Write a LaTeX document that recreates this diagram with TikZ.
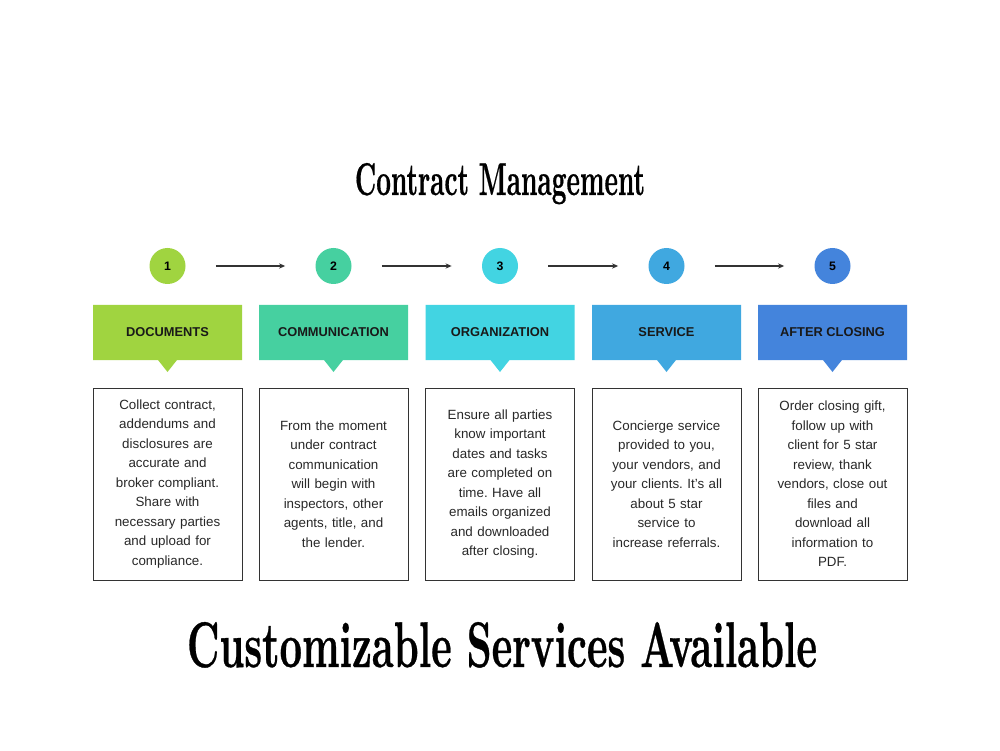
\documentclass[tikz,border=0pt]{standalone}
\usepackage{fontspec,graphicx}
\setsansfont{Liberation Sans}
\newfontfamily\cmdisplay[FakeBold=0.6]{lmroman10-bold.otf}
\definecolor{cmlime}{RGB}{160,212,64}
\definecolor{cmmint}{RGB}{70,208,160}
\definecolor{cmcyan}{RGB}{66,212,226}
\definecolor{cmsky}{RGB}{64,168,224}
\definecolor{cmblue}{RGB}{68,132,220}
\definecolor{cmtext}{RGB}{40,40,40}
\usetikzlibrary{arrows.meta,positioning,shapes.callouts}

\begin{document}
\frenchspacing
\begin{tikzpicture}[
  cmnum/.style={circle,minimum size=0.72cm,inner sep=0pt,
    font=\sffamily\bfseries\fontsize{7}{8}\selectfont,text=black},
  cmhead/.style={rectangle callout,minimum width=2.98cm,minimum height=1.1cm,
    inner sep=0pt,callout relative pointer={(0,-0.24)},callout pointer width=0.38cm,
    font=\sffamily\bfseries\fontsize{7.3}{8}\selectfont,text=black!90},
  cmdesc/.style={draw=black!80,line width=0.5pt,minimum width=2.98cm,minimum height=3.84cm,
    align=center,text width=2.9cm,inner sep=0pt,
    font=\sffamily\fontsize{7.6}{11.1}\selectfont,text=cmtext},
  cmflow/.style={draw=black!80,line width=0.6pt,-{Stealth[length=3.5pt,width=3pt]},
    shorten <=0.6cm,shorten >=0.6cm}
]
  \useasboundingbox[fill=white] (0,0) rectangle (20,15);
  \node (title) at (10,11.1) [anchor=base]
    {\resizebox{5.8cm}{0.64cm}{\cmdisplay Contract Management}};
  % Steps
  \node[cmnum,fill=cmlime] (n1) at (3.35,9.68) {1};
  \node[cmnum,fill=cmmint] (n2) at (6.67,9.68) {2};
  \node[cmnum,fill=cmcyan] (n3) at (10.0,9.68) {3};
  \node[cmnum,fill=cmsky]  (n4) at (13.33,9.68) {4};
  \node[cmnum,fill=cmblue] (n5) at (16.65,9.68) {5};
  \draw[cmflow] (n1) -- (n2);
  \draw[cmflow] (n2) -- (n3);
  \draw[cmflow] (n3) -- (n4);
  \draw[cmflow] (n4) -- (n5);
  % Headers
  \node[cmhead,fill=cmlime] (h1) at (3.35,8.35) {DOCUMENTS};
  \node[cmhead,fill=cmmint] (h2) at (6.67,8.35) {COMMUNICATION};
  \node[cmhead,fill=cmcyan] (h3) at (10.0,8.35) {ORGANIZATION};
  \node[cmhead,fill=cmsky]  (h4) at (13.33,8.35) {SERVICE};
  \node[cmhead,fill=cmblue] (h5) at (16.65,8.35) {AFTER CLOSING};
  % Descriptions
  \node[cmdesc] (d1) at (3.35,5.32) {Collect contract,\\addendums and\\disclosures are\\accurate and\\broker compliant.\\Share with\\necessary parties\\and upload for\\compliance.};
  \node[cmdesc] (d2) at (6.67,5.32) {From the moment\\under contract\\communication\\will begin with\\inspectors, other\\agents, title, and\\the lender.};
  \node[cmdesc] (d3) at (10.0,5.32) {Ensure all parties\\know important\\dates and tasks\\are completed on\\time. Have all\\emails organized\\and downloaded\\after closing.};
  \node[cmdesc] (d4) at (13.33,5.32) {Concierge service\\provided to you,\\your vendors, and\\your clients. It's all\\about 5 star\\service to\\increase referrals.};
  \node[cmdesc] (d5) at (16.65,5.32) {Order closing gift,\\follow up with\\client for 5 star\\review, thank\\vendors, close out\\files and\\download all\\information to\\PDF.};
  \node (footer) at (10.04,1.66) [anchor=base]
    {\resizebox{12.6cm}{0.9cm}{\cmdisplay Customizable Services Available}};
\end{tikzpicture}
\end{document}
